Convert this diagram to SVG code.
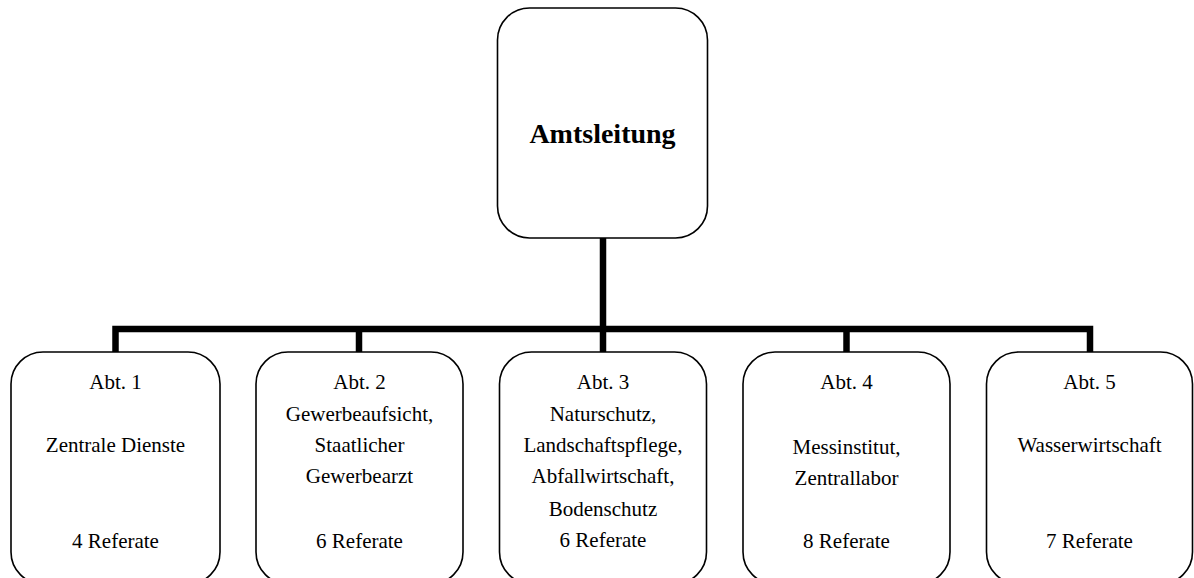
<svg xmlns="http://www.w3.org/2000/svg" width="1194" height="578" viewBox="0 0 1194 578">
<style>
.box{fill:#fff;stroke:#000;stroke-width:1.6}
.t{font-family:"Liberation Serif","Times New Roman",serif;font-size:21px;fill:#000;text-anchor:middle}
.b{font-family:"Liberation Serif","Times New Roman",serif;font-size:28px;font-weight:bold;fill:#000;text-anchor:middle}
.c{fill:none;stroke:#000;stroke-width:6.5;stroke-linejoin:miter}
</style>
<rect width="1194" height="578" fill="#fff"/>
<g id="connectors">
<path class="c" d="M603 238V329"/>
<path class="c" d="M115.5 352V329H1090V352"/>
<path class="c" d="M359 329V352"/>
<path class="c" d="M603 329V352"/>
<path class="c" d="M846.5 329V352"/>
</g>
<g id="amtsleitung">
<rect class="box" x="497.5" y="8" width="210" height="230" rx="32"/>
<text class="b" x="602.5" y="143">Amtsleitung</text>
</g>
<g id="abt1">
<rect class="box" x="11" y="352" width="209" height="232" rx="32"/>
<text class="t" x="115.5" y="389">Abt. 1</text>
<text class="t" x="115.5" y="452">Zentrale Dienste</text>
<text class="t" x="115.5" y="548">4 Referate</text>
</g>
<g id="abt2">
<rect class="box" x="256" y="352" width="207" height="232" rx="32"/>
<text class="t" x="359.5" y="389">Abt. 2</text>
<text class="t" x="359.5" y="421">Gewerbeaufsicht,</text>
<text class="t" x="359.5" y="452">Staatlicher</text>
<text class="t" x="359.5" y="483">Gewerbearzt</text>
<text class="t" x="359.5" y="548">6 Referate</text>
</g>
<g id="abt3">
<rect class="box" x="499.5" y="352" width="207" height="232" rx="32"/>
<text class="t" x="603" y="389">Abt. 3</text>
<text class="t" x="603" y="421">Naturschutz,</text>
<text class="t" x="603" y="452">Landschaftspflege,</text>
<text class="t" x="603" y="483">Abfallwirtschaft,</text>
<text class="t" x="603" y="516">Bodenschutz</text>
<text class="t" x="603" y="547">6 Referate</text>
</g>
<g id="abt4">
<rect class="box" x="743" y="352" width="207" height="232" rx="32"/>
<text class="t" x="846.5" y="389">Abt. 4</text>
<text class="t" x="846.5" y="454">Messinstitut,</text>
<text class="t" x="846.5" y="485">Zentrallabor</text>
<text class="t" x="846.5" y="548">8 Referate</text>
</g>
<g id="abt5">
<rect class="box" x="986.5" y="352" width="206" height="232" rx="32"/>
<text class="t" x="1089.5" y="389">Abt. 5</text>
<text class="t" x="1089.5" y="452">Wasserwirtschaft</text>
<text class="t" x="1089.5" y="548">7 Referate</text>
</g>
</svg>
